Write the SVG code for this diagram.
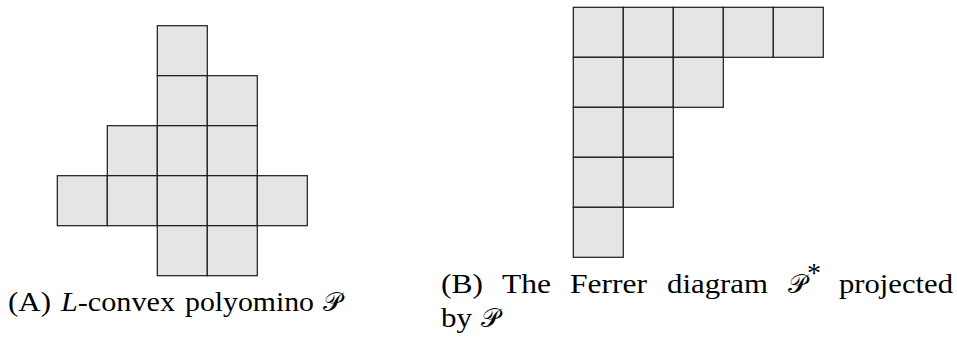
<svg xmlns="http://www.w3.org/2000/svg" width="957" height="340" viewBox="0 0 957 340">
<style>
.c{fill:#e5e5e5;stroke:#1a1a1a;stroke-width:1.2}
.t{font-family:'Liberation Serif','Times New Roman','DejaVu Serif',serif;font-size:28px;fill:#000}
.i{font-style:italic}
.s{font-family:'DejaVu Serif','DejaVu Sans','Noto Sans',serif;font-size:26px;fill:#000}
</style>
<g id="polyomino">
<rect class="c" x="157.3" y="25.7" width="50" height="50"/>
<rect class="c" x="157.3" y="75.7" width="50" height="50"/>
<rect class="c" x="207.3" y="75.7" width="50" height="50"/>
<rect class="c" x="107.3" y="125.7" width="50" height="50"/>
<rect class="c" x="157.3" y="125.7" width="50" height="50"/>
<rect class="c" x="207.3" y="125.7" width="50" height="50"/>
<rect class="c" x="57.3" y="175.7" width="50" height="50"/>
<rect class="c" x="107.3" y="175.7" width="50" height="50"/>
<rect class="c" x="157.3" y="175.7" width="50" height="50"/>
<rect class="c" x="207.3" y="175.7" width="50" height="50"/>
<rect class="c" x="257.3" y="175.7" width="50" height="50"/>
<rect class="c" x="157.3" y="225.7" width="50" height="50"/>
<rect class="c" x="207.3" y="225.7" width="50" height="50"/>
</g>
<g id="ferrer">
<rect class="c" x="573.3" y="7.3" width="50" height="50"/>
<rect class="c" x="623.3" y="7.3" width="50" height="50"/>
<rect class="c" x="673.3" y="7.3" width="50" height="50"/>
<rect class="c" x="723.3" y="7.3" width="50" height="50"/>
<rect class="c" x="773.3" y="7.3" width="50" height="50"/>
<rect class="c" x="573.3" y="57.3" width="50" height="50"/>
<rect class="c" x="623.3" y="57.3" width="50" height="50"/>
<rect class="c" x="673.3" y="57.3" width="50" height="50"/>
<rect class="c" x="573.3" y="107.3" width="50" height="50"/>
<rect class="c" x="623.3" y="107.3" width="50" height="50"/>
<rect class="c" x="573.3" y="157.3" width="50" height="50"/>
<rect class="c" x="623.3" y="157.3" width="50" height="50"/>
<rect class="c" x="573.3" y="207.3" width="50" height="50"/>
</g>
<g id="caption-a">
<text class="t" x="8" y="311" textLength="43" lengthAdjust="spacingAndGlyphs">(A)</text>
<text class="t" x="61" y="311" textLength="114" lengthAdjust="spacingAndGlyphs"><tspan class="i">L</tspan>-convex</text>
<text class="t" x="185" y="311" textLength="129" lengthAdjust="spacingAndGlyphs">polyomino</text>
<text class="s" x="323" y="311">𝒫</text>
</g>
<g id="caption-b">
<text class="t" x="441" y="293" textLength="42" lengthAdjust="spacingAndGlyphs">(B)</text>
<text class="t" x="502" y="293" textLength="49" lengthAdjust="spacingAndGlyphs">The</text>
<text class="t" x="570" y="293" textLength="77" lengthAdjust="spacingAndGlyphs">Ferrer</text>
<text class="t" x="667" y="293" textLength="101" lengthAdjust="spacingAndGlyphs">diagram</text>
<text class="s" x="788" y="293">𝒫<tspan class="t" dy="-11" font-size="19">*</tspan></text>
<text class="t" x="839" y="293" textLength="114" lengthAdjust="spacingAndGlyphs">projected</text>
<text class="t" x="441" y="327" textLength="31" lengthAdjust="spacingAndGlyphs">by</text>
<text class="s" x="481" y="327">𝒫</text>
</g>
</svg>
